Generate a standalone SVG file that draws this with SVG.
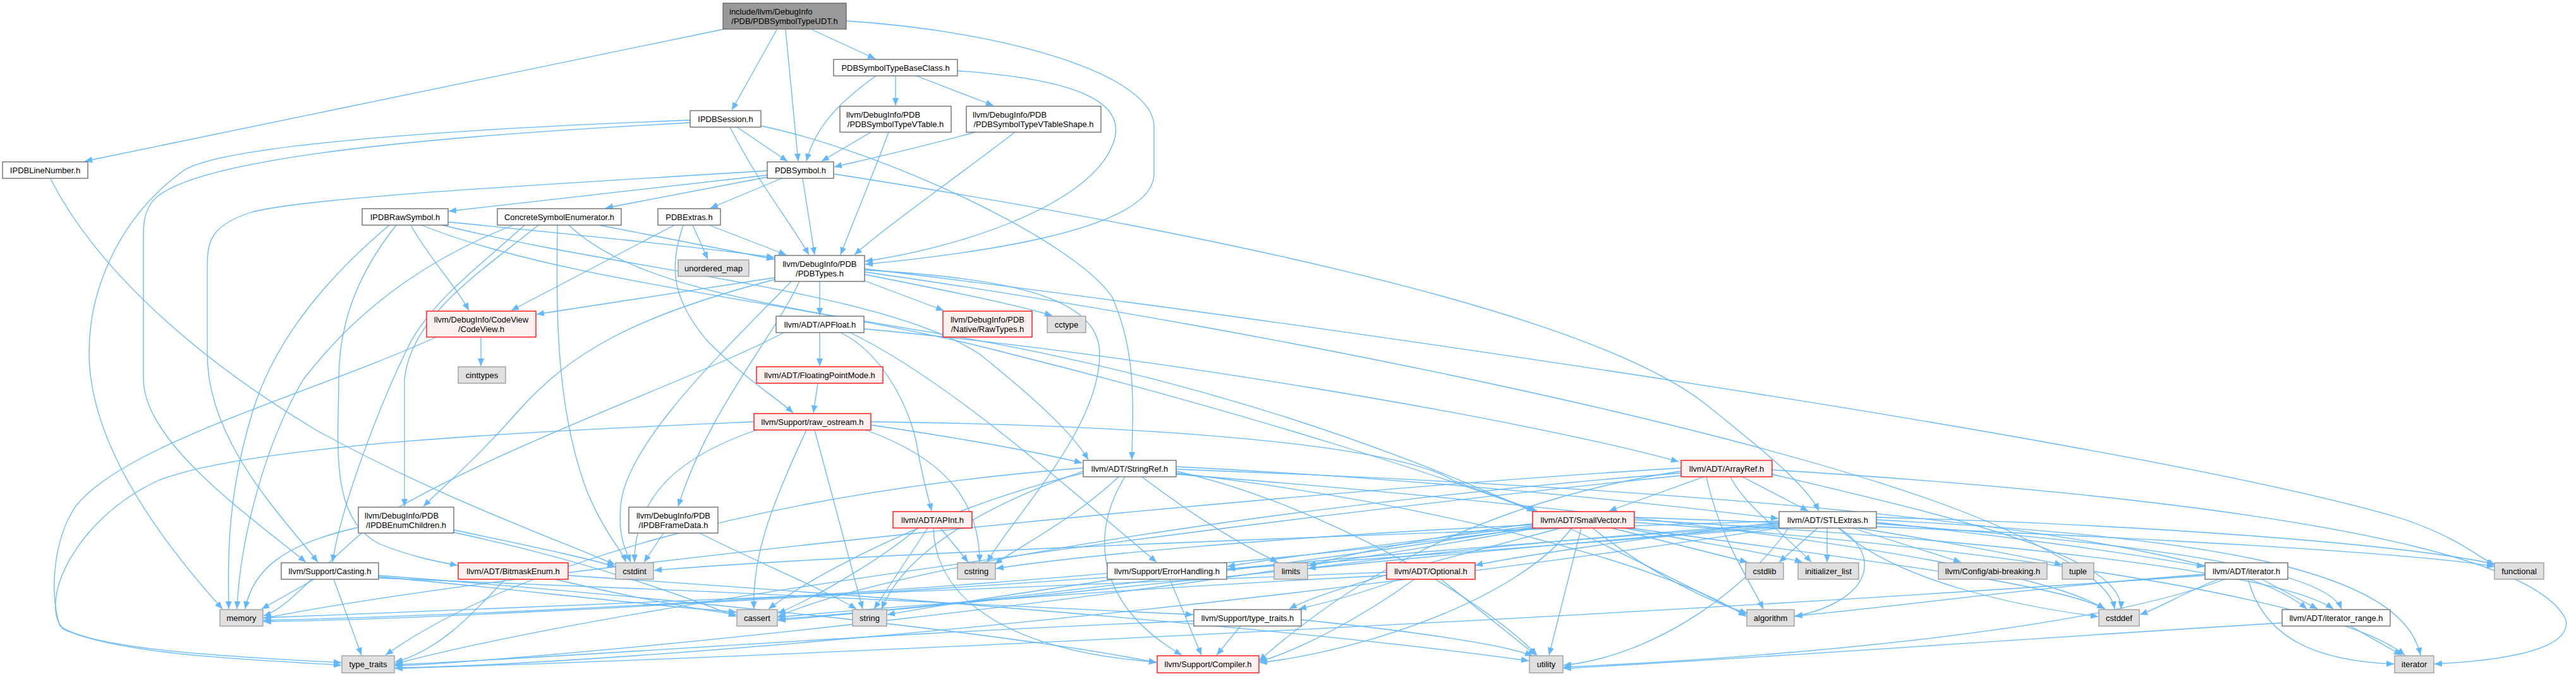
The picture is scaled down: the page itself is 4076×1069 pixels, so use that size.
<svg xmlns="http://www.w3.org/2000/svg" width="4076" height="1069" viewBox="0 0 4076 1069">
<style>
rect{stroke-width:1.3}
.w rect{fill:#ffffff;stroke:#666666}
.g rect{fill:#e0e0e0;stroke:#999999}
.r rect{fill:#fff0f0;stroke:#ff0000}
.root rect{fill:#999999;stroke:#666666}
text{font-family:"Liberation Sans",Arial,Helvetica,sans-serif;font-size:13px;fill:#000000}
.c{text-anchor:middle}
#edges path{fill:none;stroke:#63b8ff;stroke-width:1.3;marker-end:url(#arr)}
</style>
<defs>
<marker id="arr" markerUnits="userSpaceOnUse" markerWidth="14" markerHeight="12" refX="12" refY="5" orient="auto"><path d="M0,0 L12,5 L0,10 z" fill="#63b8ff" stroke="none"/></marker>
</defs>
<rect x="0" y="0" width="4076" height="1069" fill="#ffffff"/>
<g id="edges">
<path d="M1146,46 L134,255"/>
<path d="M1229,47 L1158,174"/>
<path d="M1243,47 L1263,255"/>
<path d="M1285,47 L1385,93"/>
<path d="M1339,33 C1600,50 1826,120 1826,200 L1826,275 C1826,370 1500,405 1369,418"/>
<path d="M80,283 C150,420 300,560 500,680 C700,790 900,860 973,893"/>
<path d="M1166,201 L1246,255"/>
<path d="M1155,201 C1200,290 1250,350 1280,403"/>
<path d="M1204,199 C1400,240 1700,380 1760,470 C1800,560 1792,650 1791,727"/>
<path d="M1092,194 C800,210 300,240 240,320 C226,340 227,360 227,380 L227,600 C227,700 400,820 484,889"/>
<path d="M1092,190 C700,205 350,230 290,270 C180,350 140,470 141,560 C142,700 250,850 352,963"/>
<path d="M1214,277 L710,334"/>
<path d="M1214,280 L958,329"/>
<path d="M1237,282 L1124,329"/>
<path d="M1270,282 L1289,403"/>
<path d="M1319,275 C1800,350 2500,480 2700,640 C2800,720 2860,770 2878,808"/>
<path d="M1214,270 C900,290 500,310 400,335 C335,355 328,380 328,420 L328,560 C328,700 450,820 503,889"/>
<path d="M1386,120 C1330,160 1290,200 1276,255"/>
<path d="M1417,120 L1417,167"/>
<path d="M1450,120 L1572,167"/>
<path d="M1515,112 C1700,125 1790,160 1760,230 C1720,330 1500,395 1369,413"/>
<path d="M1378,209 L1300,255"/>
<path d="M1406,209 C1380,280 1350,350 1330,403"/>
<path d="M1543,209 C1450,235 1370,252 1320,264"/>
<path d="M1606,209 C1500,290 1400,360 1352,403"/>
<path d="M709,351 C900,370 1100,390 1225,407"/>
<path d="M650,356 C680,410 720,450 742,491"/>
<path d="M616,356 C540,420 440,520 400,650 C360,780 360,880 362,963"/>
<path d="M627,356 C560,440 536,520 536,600 C536,700 520,820 600,860 C650,880 690,888 724,894"/>
<path d="M667,356 C900,450 1300,480 1600,560 C2000,660 2300,760 2428,808"/>
<path d="M700,356 C1000,430 1400,460 1550,560 C1650,640 1700,690 1722,727"/>
<path d="M948,356 L1225,410"/>
<path d="M852,356 C760,430 650,500 640,600 L640,801"/>
<path d="M830,356 C760,420 690,470 650,540 C600,640 540,800 526,889"/>
<path d="M812,356 C700,400 580,470 480,600 C420,700 380,850 375,963"/>
<path d="M882,356 C880,500 880,650 930,780 C960,850 985,870 990,889"/>
<path d="M900,356 C1000,450 1200,480 1500,530 C2200,650 2600,900 2763,972"/>
<path d="M1067,356 L809,491"/>
<path d="M1081,356 C1060,420 1060,470 1120,540 C1180,600 1230,630 1255,653"/>
<path d="M1096,356 L1120,410"/>
<path d="M1122,356 L1244,403"/>
<path d="M1297,445 L1297,499"/>
<path d="M1226,439 L849,497"/>
<path d="M1226,442 C1000,500 900,560 820,650 C750,730 700,770 670,801"/>
<path d="M1265,445 C1220,540 1120,650 1073,801"/>
<path d="M1252,445 C1150,550 990,700 982,800 C978,850 990,870 998,889"/>
<path d="M1368,444 L1493,491"/>
<path d="M1368,434 C1500,460 1600,480 1665,499"/>
<path d="M1368,427 C1600,440 1740,470 1740,560 C1740,680 1600,820 1562,889"/>
<path d="M1368,425 C2000,500 3400,700 3800,820 C3890,850 3920,880 3948,894"/>
<path d="M1368,430 C2000,520 2900,700 3200,850 C3300,900 3340,930 3346,963"/>
<path d="M761,533 L761,579"/>
<path d="M690,533 C500,620 200,700 120,800 C80,860 80,950 95,990 C150,1030 400,1040 540,1048"/>
<path d="M1297,526 L1297,579"/>
<path d="M1330,526 C1400,560 1440,650 1450,700 C1460,760 1470,790 1474,808"/>
<path d="M1345,526 C1500,600 1700,780 1830,889"/>
<path d="M1367,520 C1800,560 2400,660 2656,730"/>
<path d="M1240,526 C1100,600 800,700 600,820 C500,900 460,960 417,974"/>
<path d="M1294,606 L1287,653"/>
<path d="M1378,672 C1500,690 1620,710 1712,732"/>
<path d="M1378,667 C1800,672 2200,700 2300,760 C2380,790 2410,800 2432,808"/>
<path d="M1276,680 C1220,800 1190,880 1193,963"/>
<path d="M1289,680 L1365,963"/>
<path d="M1197,680 C1080,720 1004,780 1004,889"/>
<path d="M1370,680 C1480,720 1550,780 1550,889"/>
<path d="M1193,667 C900,680 400,700 250,760 C120,820 60,950 100,995 C200,1040 450,1045 540,1052"/>
<path d="M1861,738 C2300,760 2650,800 2814,820"/>
<path d="M1861,742 C2600,770 3500,830 3650,963"/>
<path d="M1780,754 C1720,850 1740,960 1870,1036"/>
<path d="M1861,748 C2300,800 2650,900 2763,975"/>
<path d="M1714,748 C1500,800 1300,900 1216,963"/>
<path d="M1861,750 C2500,800 3200,880 3330,963"/>
<path d="M1770,754 C1700,820 1620,860 1574,892"/>
<path d="M1807,754 C1880,810 1960,860 2022,889"/>
<path d="M1714,745 C1500,820 1420,900 1395,963"/>
<path d="M1714,740 C1200,780 800,900 610,1036"/>
<path d="M1861,745 C2100,800 2350,950 2432,1036"/>
<path d="M2696,754 L2546,808"/>
<path d="M2757,754 L2861,808"/>
<path d="M2738,754 C2760,800 2830,850 2866,889"/>
<path d="M2804,750 C3100,820 3360,880 3356,963"/>
<path d="M2804,743 C3400,780 4000,850 4060,980 C4070,1030 3950,1045 3852,1050"/>
<path d="M2660,745 C2300,800 2100,950 1992,1045"/>
<path d="M2700,754 C2720,850 2770,920 2790,963"/>
<path d="M2660,748 C2000,800 1400,900 1231,975"/>
<path d="M2660,740 C2000,780 800,900 417,978"/>
<path d="M2660,752 C2000,820 1000,950 625,1050"/>
<path d="M1452,835 C1400,880 1300,940 1231,970"/>
<path d="M1468,835 L1383,963"/>
<path d="M1477,835 C1480,950 1600,1030 1830,1047"/>
<path d="M1488,835 L1532,889"/>
<path d="M2425,828 C2250,850 2120,880 2070,895"/>
<path d="M2425,832 C2200,860 2000,885 1942,896"/>
<path d="M2425,830 C2000,850 1700,880 1576,899"/>
<path d="M2425,834 C2000,900 1500,960 1231,979"/>
<path d="M2425,835 C1800,920 900,970 417,981"/>
<path d="M2430,835 C1800,950 900,1040 625,1053"/>
<path d="M2470,835 C2300,880 2100,930 2040,963"/>
<path d="M2487,835 C2400,950 2150,1030 1993,1048"/>
<path d="M2502,835 L2451,1036"/>
<path d="M2520,835 C2600,900 2700,950 2765,970"/>
<path d="M2550,835 C2650,860 2720,878 2765,889"/>
<path d="M2570,835 C2700,860 2800,875 2852,889"/>
<path d="M2580,835 C2900,880 3250,920 3331,963"/>
<path d="M2586,822 C3100,850 3600,900 3692,963"/>
<path d="M2586,826 C3200,870 3700,950 3805,1036"/>
<path d="M2586,818 C3200,840 3800,870 3947,896"/>
<path d="M2815,826 C2600,850 2400,880 2334,894"/>
<path d="M2969,826 C3200,850 3400,880 3488,896"/>
<path d="M2969,828 C3400,860 3680,900 3705,963"/>
<path d="M2931,835 L3103,889"/>
<path d="M2815,830 C2400,860 2100,885 1942,900"/>
<path d="M2910,835 C2980,880 2960,950 2840,975"/>
<path d="M2815,832 C2200,880 1600,950 1231,981"/>
<path d="M2909,835 C3000,920 3200,960 3320,975"/>
<path d="M2815,824 C2000,850 1300,880 1035,902"/>
<path d="M2876,835 L2815,889"/>
<path d="M2969,818 C3400,830 3800,860 3947,892"/>
<path d="M2891,835 L2891,889"/>
<path d="M2969,822 C3500,850 3800,900 3830,1036"/>
<path d="M2815,828 C2500,850 2200,880 2070,899"/>
<path d="M2815,834 C2000,900 900,975 417,983"/>
<path d="M2940,835 C3100,860 3200,880 3263,893"/>
<path d="M2815,835 C2000,960 1000,1050 625,1056"/>
<path d="M2830,835 C2750,950 2600,1040 2474,1052"/>
<path d="M2280,916 L2430,1036"/>
<path d="M2238,916 C2150,980 2050,1030 1993,1046"/>
<path d="M2214,916 C2150,940 2090,955 2055,963"/>
<path d="M2194,910 C1800,930 1400,960 1231,976"/>
<path d="M2194,905 C1500,930 800,960 417,977"/>
<path d="M878,916 C980,940 1080,960 1165,972"/>
<path d="M799,916 C740,980 690,1030 625,1047"/>
<path d="M899,910 C1500,950 2100,1000 2419,1045"/>
<path d="M497,916 L414,963"/>
<path d="M528,916 L572,1036"/>
<path d="M599,910 C1000,940 1600,1000 1830,1048"/>
<path d="M599,914 C1000,930 1600,955 1888,972"/>
<path d="M599,912 C800,930 1000,955 1165,968"/>
<path d="M1851,916 L1901,1036"/>
<path d="M1765,916 C1600,940 1500,955 1404,972"/>
<path d="M1963,990 L1925,1036"/>
<path d="M1889,982 C1400,1000 900,1040 625,1051"/>
<path d="M2059,980 C2250,1000 2380,1020 2425,1037"/>
<path d="M3579,916 L3667,963"/>
<path d="M3557,916 C3580,1000 3650,1045 3788,1050"/>
<path d="M3489,908 C3200,930 3000,960 2840,974"/>
<path d="M3510,916 C3450,940 3420,960 3386,972"/>
<path d="M3489,910 C2500,980 1200,1040 625,1057"/>
<path d="M3520,916 C3300,1000 2800,1040 2474,1055"/>
<path d="M3719,990 L3800,1036"/>
<path d="M3611,985 C3200,1010 2800,1040 2474,1057"/>
<path d="M567,834 C450,860 400,900 388,963"/>
<path d="M718,838 C820,860 920,880 973,896"/>
<path d="M718,842 C900,880 1050,930 1165,975"/>
<path d="M1050,843 L1019,889"/>
<path d="M1107,843 C1200,890 1300,930 1355,963"/>
</g>
<g id="n_root" class="root"><rect x="1144" y="5" width="195" height="41"/><text x="1154" y="22.5">include/llvm/DebugInfo</text><text class="c" x="1241.5" y="38">/PDB/PDBSymbolTypeUDT.h</text></g>
<g id="n_linenumber" class="w"><rect x="4" y="256" width="135" height="26"/><text class="c" x="71.5" y="273.5">IPDBLineNumber.h</text></g>
<g id="n_session" class="w"><rect x="1092" y="175" width="112" height="26"/><text class="c" x="1148" y="192.5">IPDBSession.h</text></g>
<g id="n_baseclass" class="w"><rect x="1319" y="94" width="196" height="26"/><text class="c" x="1417" y="111.5">PDBSymbolTypeBaseClass.h</text></g>
<g id="n_vtable" class="w"><rect x="1329" y="168" width="176" height="41"/><text x="1339" y="185.5">llvm/DebugInfo/PDB</text><text class="c" x="1417" y="201">/PDBSymbolTypeVTable.h</text></g>
<g id="n_vtableshape" class="w"><rect x="1529" y="168" width="213" height="41"/><text x="1539" y="185.5">llvm/DebugInfo/PDB</text><text class="c" x="1635.5" y="201">/PDBSymbolTypeVTableShape.h</text></g>
<g id="n_pdbsymbol" class="w"><rect x="1214" y="256" width="105" height="26"/><text class="c" x="1266.5" y="273.5">PDBSymbol.h</text></g>
<g id="n_rawsymbol" class="w"><rect x="573" y="330" width="136" height="26"/><text class="c" x="641" y="347.5">IPDBRawSymbol.h</text></g>
<g id="n_concrete" class="w"><rect x="787" y="330" width="196" height="26"/><text class="c" x="885" y="347.5">ConcreteSymbolEnumerator.h</text></g>
<g id="n_extras" class="w"><rect x="1041" y="330" width="99" height="26"/><text class="c" x="1090.5" y="347.5">PDBExtras.h</text></g>
<g id="n_unordered_map" class="g"><rect x="1073" y="411" width="112" height="26"/><text class="c" x="1129" y="428.5">unordered_map</text></g>
<g id="n_pdbtypes" class="w"><rect x="1226" y="404" width="142" height="41"/><text class="c" x="1297" y="421.5">llvm/DebugInfo/PDB</text><text class="c" x="1297" y="437">/PDBTypes.h</text></g>
<g id="n_codeview" class="r"><rect x="675" y="492" width="173" height="41"/><text class="c" x="761.5" y="509.5">llvm/DebugInfo/CodeView</text><text class="c" x="761.5" y="525">/CodeView.h</text></g>
<g id="n_cinttypes" class="g"><rect x="725" y="580" width="75" height="26"/><text class="c" x="762.5" y="597.5">cinttypes</text></g>
<g id="n_apfloat" class="w"><rect x="1228" y="500" width="139" height="26"/><text class="c" x="1297.5" y="517.5">llvm/ADT/APFloat.h</text></g>
<g id="n_rawtypes" class="r"><rect x="1492" y="492" width="141" height="41"/><text class="c" x="1562.5" y="509.5">llvm/DebugInfo/PDB</text><text class="c" x="1562.5" y="525">/Native/RawTypes.h</text></g>
<g id="n_cctype" class="g"><rect x="1657" y="500" width="61" height="26"/><text class="c" x="1687.5" y="517.5">cctype</text></g>
<g id="n_fpmode" class="r"><rect x="1197" y="580" width="200" height="26"/><text class="c" x="1297" y="597.5">llvm/ADT/FloatingPointMode.h</text></g>
<g id="n_raw_ostream" class="r"><rect x="1193" y="654" width="185" height="26"/><text class="c" x="1285.5" y="671.5">llvm/Support/raw_ostream.h</text></g>
<g id="n_stringref" class="w"><rect x="1714" y="728" width="147" height="26"/><text class="c" x="1787.5" y="745.5">llvm/ADT/StringRef.h</text></g>
<g id="n_arrayref" class="r"><rect x="2660" y="728" width="144" height="26"/><text class="c" x="2732" y="745.5">llvm/ADT/ArrayRef.h</text></g>
<g id="n_enumchildren" class="w"><rect x="567" y="802" width="151" height="41"/><text x="577" y="819.5">llvm/DebugInfo/PDB</text><text class="c" x="642.5" y="835">/IPDBEnumChildren.h</text></g>
<g id="n_framedata" class="w"><rect x="995" y="802" width="141" height="41"/><text class="c" x="1065.5" y="819.5">llvm/DebugInfo/PDB</text><text class="c" x="1065.5" y="835">/IPDBFrameData.h</text></g>
<g id="n_apint" class="r"><rect x="1413" y="809" width="125" height="26"/><text class="c" x="1475.5" y="826.5">llvm/ADT/APInt.h</text></g>
<g id="n_smallvector" class="r"><rect x="2425" y="809" width="161" height="26"/><text class="c" x="2505.5" y="826.5">llvm/ADT/SmallVector.h</text></g>
<g id="n_stlextras" class="w"><rect x="2815" y="809" width="154" height="26"/><text class="c" x="2892" y="826.5">llvm/ADT/STLExtras.h</text></g>
<g id="n_casting" class="w"><rect x="445" y="890" width="154" height="26"/><text class="c" x="522" y="907.5">llvm/Support/Casting.h</text></g>
<g id="n_bitmask" class="r"><rect x="725" y="890" width="174" height="26"/><text class="c" x="812" y="907.5">llvm/ADT/BitmaskEnum.h</text></g>
<g id="n_cstdint" class="g"><rect x="974" y="890" width="60" height="26"/><text class="c" x="1004" y="907.5">cstdint</text></g>
<g id="n_cstring" class="g"><rect x="1515" y="890" width="60" height="26"/><text class="c" x="1545" y="907.5">cstring</text></g>
<g id="n_errorhandling" class="w"><rect x="1752" y="890" width="189" height="26"/><text class="c" x="1846.5" y="907.5">llvm/Support/ErrorHandling.h</text></g>
<g id="n_limits" class="g"><rect x="2016" y="890" width="53" height="26"/><text class="c" x="2042.5" y="907.5">limits</text></g>
<g id="n_optional" class="r"><rect x="2194" y="890" width="140" height="26"/><text class="c" x="2264" y="907.5">llvm/ADT/Optional.h</text></g>
<g id="n_cstdlib" class="g"><rect x="2762" y="890" width="60" height="26"/><text class="c" x="2792" y="907.5">cstdlib</text></g>
<g id="n_initlist" class="g"><rect x="2845" y="890" width="96" height="26"/><text class="c" x="2893" y="907.5">initializer_list</text></g>
<g id="n_abi" class="g"><rect x="3067" y="890" width="172" height="26"/><text class="c" x="3153" y="907.5">llvm/Config/abi-breaking.h</text></g>
<g id="n_tuple" class="g"><rect x="3263" y="890" width="50" height="26"/><text class="c" x="3288" y="907.5">tuple</text></g>
<g id="n_iteratorh" class="w"><rect x="3489" y="890" width="131" height="26"/><text class="c" x="3554.5" y="907.5">llvm/ADT/iterator.h</text></g>
<g id="n_functional" class="g"><rect x="3947" y="890" width="78" height="26"/><text class="c" x="3986" y="907.5">functional</text></g>
<g id="n_memory" class="g"><rect x="348" y="964" width="68" height="26"/><text class="c" x="382" y="981.5">memory</text></g>
<g id="n_cassert" class="g"><rect x="1166" y="964" width="64" height="26"/><text class="c" x="1198" y="981.5">cassert</text></g>
<g id="n_string" class="g"><rect x="1349" y="964" width="54" height="26"/><text class="c" x="1376" y="981.5">string</text></g>
<g id="n_typetraitsh" class="w"><rect x="1889" y="964" width="170" height="26"/><text class="c" x="1974" y="981.5">llvm/Support/type_traits.h</text></g>
<g id="n_algorithm" class="g"><rect x="2764" y="964" width="75" height="26"/><text class="c" x="2801.5" y="981.5">algorithm</text></g>
<g id="n_cstddef" class="g"><rect x="3321" y="964" width="64" height="26"/><text class="c" x="3353" y="981.5">cstddef</text></g>
<g id="n_iterrange" class="w"><rect x="3611" y="964" width="171" height="26"/><text class="c" x="3696.5" y="981.5">llvm/ADT/iterator_range.h</text></g>
<g id="n_type_traits" class="g"><rect x="541" y="1037" width="83" height="27"/><text class="c" x="582.5" y="1055">type_traits</text></g>
<g id="n_compiler" class="r"><rect x="1831" y="1037" width="161" height="27"/><text class="c" x="1911.5" y="1055">llvm/Support/Compiler.h</text></g>
<g id="n_utility" class="g"><rect x="2420" y="1037" width="53" height="27"/><text class="c" x="2446.5" y="1055">utility</text></g>
<g id="n_iterator" class="g"><rect x="3789" y="1037" width="62" height="27"/><text class="c" x="3820" y="1055">iterator</text></g>
</svg>
